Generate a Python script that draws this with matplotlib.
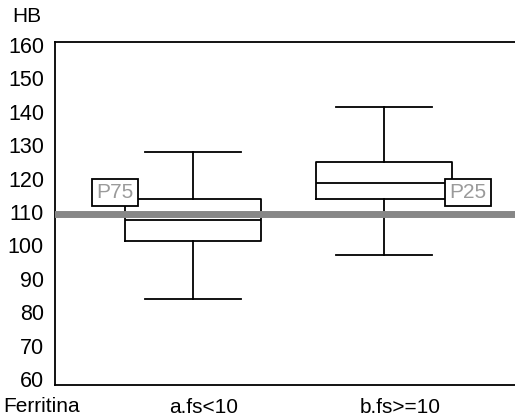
import matplotlib
matplotlib.use("Agg")
import matplotlib.pyplot as plt
import matplotlib.transforms as mtransforms

plt.rcParams['font.family'] = ['Liberation Sans', 'DejaVu Sans']

# values (HB)
groups = ["a.fs<10", "b.fs>=10"]
whislo = [83.9, 97.1]
q1 = [101.3, 113.8]
med = [107.6, 118.8]
q3 = [113.8, 125.1]
whishi = [128.0, 141.5]
ref_line = 109.3
yticks = [60, 70, 80, 90, 100, 110, 120, 130, 140, 150, 160]

stats = []
for i, g in enumerate(groups):
    stats.append({"label": g, "whislo": whislo[i], "q1": q1[i], "med": med[i],
                  "q3": q3[i], "whishi": whishi[i], "fliers": []})

fig = plt.figure(figsize=(5.15, 4.19), dpi=100)
ax = fig.add_axes([0.1068, 0.0811, 0.8932, 0.8194])

line_kw = dict(color="black", linewidth=1.3)
ax.bxp(stats, positions=[1, 2], widths=0.712, capwidths=0.5,
       showfliers=False, boxprops=line_kw, whiskerprops=line_kw,
       capprops=line_kw, medianprops=line_kw)

ax.axhline(ref_line, color="#878787", linewidth=5, zorder=3)

# percentile tags
tag_kw = dict(fontsize=15, color="#9a9a9a", ha="center", va="center", zorder=4,
              bbox=dict(boxstyle="square,pad=0.2", facecolor="white",
                        edgecolor="black", linewidth=1.3))
ax.text(0.592, 115.8, "P75", **tag_kw)
ax.text(2.44, 115.8, "P25", **tag_kw)

ax.set_xlim(0.2775, 2.686)
ax.set_ylim(58.2, 161.0)
ax.set_yticks(yticks)
ax.tick_params(axis="y", length=0, pad=8, labelsize=15.5)
ax.tick_params(axis="x", length=0, pad=9, labelsize=15)
ax.set_xticks([1, 2])
ax.set_xticklabels(groups)
offset = mtransforms.ScaledTranslation(-24 / 100, 0, fig.dpi_scale_trans)
for lab in ax.get_xticklabels():
    lab.set_horizontalalignment("left")
    lab.set_transform(lab.get_transform() + offset)

for side in ["left", "bottom", "top"]:
    ax.spines[side].set_linewidth(1.3)
ax.spines["right"].set_visible(False)

fig.text(12 / 515, 1 - 17 / 419, "HB", fontsize=15, ha="left", va="center")
fig.text(3 / 515, 1 - 406 / 419, "Ferritina", fontsize=15, ha="left", va="center")

fig.savefig("out.png", dpi=100)
